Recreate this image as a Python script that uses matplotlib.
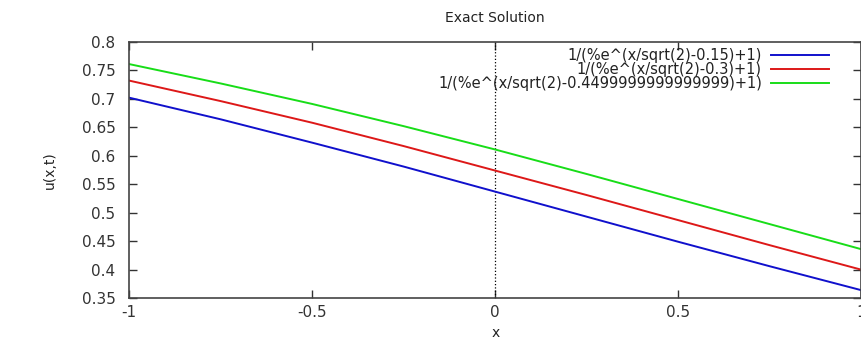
import matplotlib
matplotlib.use("Agg")
import matplotlib.pyplot as plt

x = [-1.0, -0.75, -0.5, -0.25, 0.0, 0.25, 0.5, 0.75, 1.0]
u1 = [0.702, 0.664, 0.623, 0.581, 0.537, 0.493, 0.449, 0.406, 0.364]
u2 = [0.732, 0.696, 0.658, 0.617, 0.574, 0.531, 0.487, 0.443, 0.400]
u3 = [0.761, 0.727, 0.691, 0.652, 0.611, 0.568, 0.524, 0.480, 0.436]
labels = ["1/(%e^(x/sqrt(2)-0.15)+1)",
          "1/(%e^(x/sqrt(2)-0.3)+1)",
          "1/(%e^(x/sqrt(2)-0.4499999999999999)+1)"]
colors = ["#1010cc", "#dd1818", "#18dd18"]

fig = plt.figure(figsize=(8.62, 3.38), dpi=100)
ax = fig.add_axes([0.150, 0.118, 0.849, 0.758])

ax.axvline(0, color="black", linestyle=":", linewidth=0.9)
for ys, lab, c in zip([u1, u2, u3], labels, colors):
    ax.plot(x, ys, color=c, linewidth=1.4, label=lab)

ax.set_xlim(-1, 1)
ax.set_ylim(0.35, 0.8)
ax.set_xticks([-1, -0.5, 0, 0.5, 1])
ax.set_xticklabels(["-1", "-0.5", "0", "0.5", "1"])
ax.set_yticks([0.35, 0.4, 0.45, 0.5, 0.55, 0.6, 0.65, 0.7, 0.75, 0.8])
ax.set_yticklabels(["0.35", "0.4", "0.45", "0.5", "0.55", "0.6", "0.65", "0.7", "0.75", "0.8"])
ax.tick_params(direction="in", top=True, right=True, length=6, width=1,
               labelsize=11, colors="#333333")
ax.tick_params(axis="y", pad=10)
ax.tick_params(axis="x", pad=5)
for s in ax.spines.values():
    s.set_color("#444444")
    s.set_linewidth(1.2)

ax.set_title("Exact Solution", fontsize=10, color="#222222", pad=14)
ax.set_xlabel("x", fontsize=10, color="#222222", labelpad=4)
ax.set_ylabel("u(x,t)", fontsize=10, color="#222222", labelpad=18)

leg = ax.legend(loc="upper right", bbox_to_anchor=(0.966, 1.005), frameon=False,
                markerfirst=False, fontsize=10.5, labelspacing=-0.05,
                handlelength=4.0, handletextpad=0.6, borderpad=0)
for t in leg.get_texts():
    t.set_ha("right")
    t.set_color("#222222")
leg._legend_box.align = "right"

fig.savefig("out.png", dpi=100)
